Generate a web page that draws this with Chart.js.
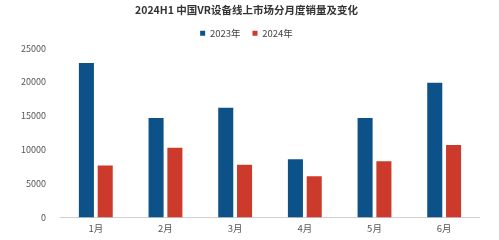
<!DOCTYPE html>
<html lang="zh">
<head>
    <meta charset="UTF-8">
    <title>2024H1 中国VR设备线上市场分月度销量及变化</title>
    <style>
        html, body {
            margin: 0;
            padding: 0;
            background: #ffffff;
        }
        #wrap {
            width: 499px;
            height: 240px;
        }
    </style>
    <script src="https://cdn.jsdelivr.net/npm/chart.js"></script>
</head>
<body>
<div id="wrap"><canvas id="myChart" width="499" height="240"></canvas></div>
<script>
    // 月份与两年的销量（台）
    const months = ['1月', '2月', '3月', '4月', '5月', '6月'];
    const sales2023 = [22800, 14700, 16200, 8600, 14700, 19900];
    const sales2024 = [7700, 10300, 7800, 6100, 8300, 10700];
    const seriesNames = ['2023年', '2024年'];
    const yTicks = [0, 5000, 10000, 15000, 20000, 25000];

    const fontFamily = '"Noto Sans CJK SC", "Noto Sans", Arial, sans-serif';

    let ctx = document.getElementById('myChart').getContext('2d');
    let myChart = new Chart(ctx, {
        type: 'bar',
        data: {
            labels: months,
            datasets: [{
                label: seriesNames[0],
                data: sales2023,
                backgroundColor: '#0c5288',
                categoryPercentage: 0.54,
                barPercentage: 0.8
            }, {
                label: seriesNames[1],
                data: sales2024,
                backgroundColor: '#cc3a2b',
                categoryPercentage: 0.54,
                barPercentage: 0.8
            }]
        },
        options: {
            responsive: false,
            animation: false,
            layout: {
                padding: {left: 14, right: 20, top: 0, bottom: 1}
            },
            plugins: {
                title: {
                    display: true,
                    text: '2024H1 中国VR设备线上市场分月度销量及变化',
                    color: '#333333',
                    font: {family: fontFamily, size: 10.5, weight: 'bold'},
                    padding: {top: 4, bottom: 0}
                },
                legend: {
                    display: true,
                    labels: {
                        boxWidth: 5,
                        boxHeight: 5,
                        padding: 12,
                        color: '#444444',
                        font: {family: fontFamily, size: 9.5}
                    }
                },
                tooltip: {enabled: false}
            },
            scales: {
                x: {
                    grid: {display: false, drawTicks: false},
                    border: {color: '#d0d0d0'},
                    ticks: {
                        color: '#555555',
                        padding: 5,
                        font: {family: fontFamily, size: 9.5}
                    }
                },
                y: {
                    min: 0,
                    max: 25000,
                    grid: {display: false},
                    border: {display: false},
                    afterBuildTicks: function (axis) {
                        axis.ticks = yTicks.map(v => ({value: v}));
                    },
                    ticks: {
                        color: '#555555',
                        padding: 7,
                        font: {family: fontFamily, size: 9},
                        callback: function (value) {
                            return String(value);
                        }
                    }
                }
            }
        }
    });
</script>
</body>
</html>
